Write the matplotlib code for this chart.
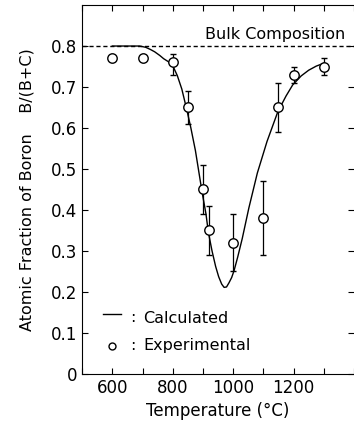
import numpy as np
import matplotlib.pyplot as plt
import matplotlib.ticker as ticker

# experimental points (temperature in C, atomic fraction of boron)
exp_temp = [600, 700, 800, 850, 900, 920, 1000, 1100, 1150, 1200, 1300]
exp_frac = [0.77, 0.77, 0.76, 0.65, 0.45, 0.35, 0.32, 0.38, 0.65, 0.73, 0.75]
exp_err_lo = [0.0, 0.0, 0.03, 0.04, 0.06, 0.06, 0.07, 0.09, 0.06, 0.02, 0.02]
exp_err_hi = [0.0, 0.0, 0.02, 0.04, 0.06, 0.06, 0.07, 0.09, 0.06, 0.02, 0.02]

# calculated curve
calc_temp = [600, 650, 690, 710, 725, 740, 757, 770, 785, 800, 815, 830, 847,
             860, 875, 897, 910, 918, 930, 942, 952, 962, 970, 978, 986, 995,
             1003, 1015, 1030, 1052, 1080, 1112, 1148, 1175, 1197, 1225, 1250,
             1275, 1300]
calc_frac = [0.80, 0.80, 0.80, 0.797, 0.792, 0.786, 0.777, 0.769, 0.762, 0.752,
             0.728, 0.695, 0.643, 0.60, 0.545, 0.444, 0.39, 0.345, 0.30, 0.262,
             0.237, 0.219, 0.211, 0.212, 0.222, 0.235, 0.252, 0.285, 0.33, 0.405,
             0.49, 0.567, 0.64, 0.678, 0.705, 0.727, 0.741, 0.751, 0.758]

bulk = 0.8

plt.rcParams['font.family'] = 'DejaVu Sans'

fig = plt.figure(figsize=(3.54, 4.21), dpi=100)
ax = fig.add_axes([0.232, 0.112, 0.768, 0.876])

ax.plot(calc_temp, calc_frac, color='black', lw=1.0)
ax.axhline(bulk, color='black', lw=1.0, ls=(0, (3, 2)))
ax.errorbar(exp_temp, exp_frac, yerr=[exp_err_lo, exp_err_hi], fmt='o',
            mfc='white', mec='black', ms=6.8, mew=1.0, ecolor='black',
            elinewidth=0.9, capsize=2.5, capthick=0.9, zorder=3)

ax.text(1370, 0.828, 'Bulk Composition', ha='right', va='center', fontsize=11.5)

# legend drawn as text, like the original
ax.plot([570, 628], [0.145, 0.145], color='black', lw=1.0)
ax.text(660, 0.138, ':', va='center', fontsize=11.5)
ax.text(702, 0.136, 'Calculated', va='center', fontsize=11.5)
ax.plot([600], [0.068], 'o', mfc='white', mec='black', ms=5, mew=1.0)
ax.text(660, 0.07, ':', va='center', fontsize=11.5)
ax.text(702, 0.07, 'Experimental', va='center', fontsize=11.5)

ax.set_xlim(500, 1400)
ax.set_ylim(0, 0.9)
ax.set_xticks([600, 800, 1000, 1200])
ax.xaxis.set_minor_locator(ticker.MultipleLocator(100))
ax.set_yticks(np.arange(0, 0.81, 0.1))
ax.set_yticklabels(['0', '0.1', '0.2', '0.3', '0.4', '0.5', '0.6', '0.7', '0.8'])
ax.tick_params(direction='in', top=True, right=True, labelsize=12, length=4,
               width=0.8)
ax.tick_params(which='minor', direction='in', top=True, length=4, width=0.8)
ax.spines['right'].set_visible(False)

ax.set_xlabel('Temperature (°C)', fontsize=12)
ax.set_ylabel('Atomic Fraction of Boron    B/(B+C)', fontsize=11.5)
ax.yaxis.set_label_coords(-0.175, 0.50)

fig.savefig('out.png', dpi=100)
